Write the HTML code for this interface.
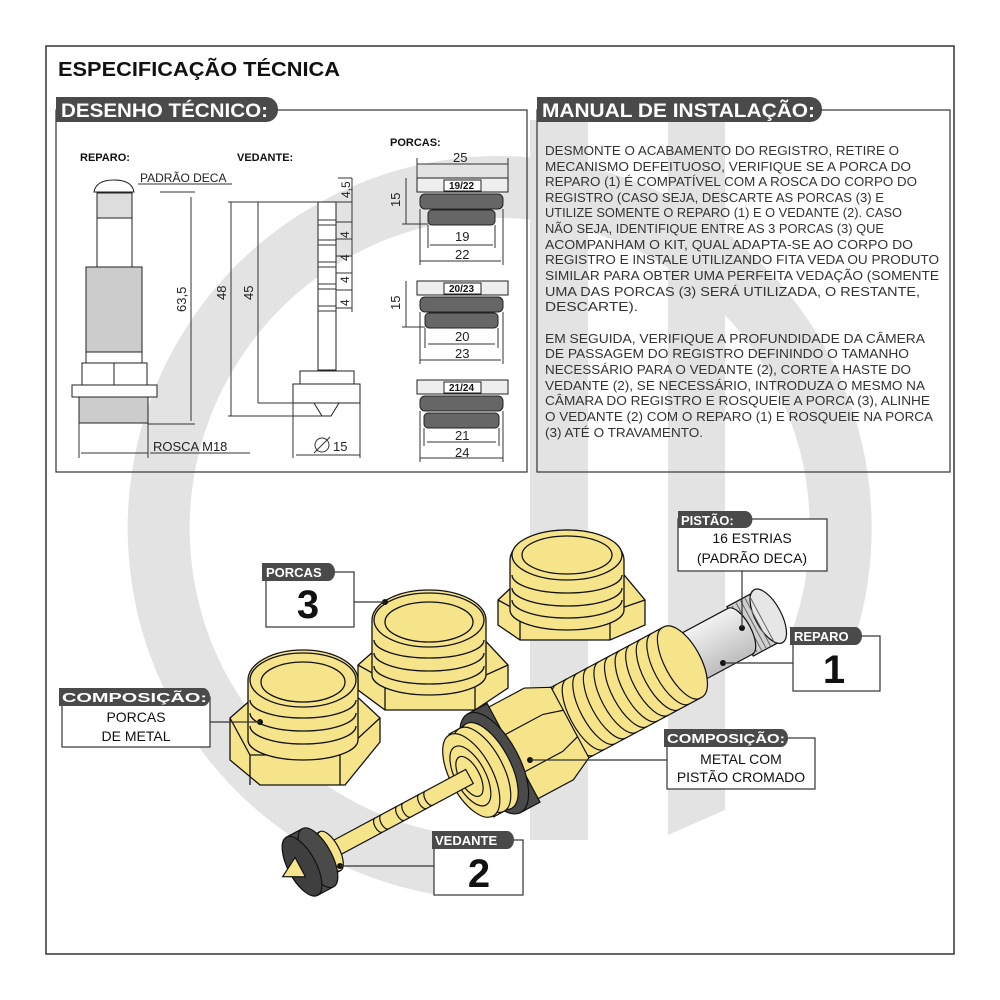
<!DOCTYPE html>
<html><head><meta charset="utf-8"><style>
html,body{margin:0;padding:0;background:#fff;}
svg{display:block;}
text{font-family:"Liberation Sans",sans-serif;}
</style></head><body>
<svg width="1000" height="1000" viewBox="0 0 1000 1000" xmlns="http://www.w3.org/2000/svg">
<defs>
<linearGradient id="chr" x1="0" y1="0" x2="0" y2="1"><stop offset="0" stop-color="#f2f2f2"/><stop offset="0.5" stop-color="#d8d8d8"/><stop offset="1" stop-color="#bdbdbd"/></linearGradient>
</defs>
<rect width="1000" height="1000" fill="#fff"/>
<!-- watermark -->
<path d="M820 645 A341 341 0 1 0 441 864" fill="none" stroke="#e3e3e3" stroke-width="62"/>
<rect x="530" y="120" width="58" height="720" fill="#e3e3e3"/>
<path d="M668 120 H725 V810 L668 835 Z" fill="#e3e3e3"/>
<rect x="46" y="46" width="908" height="908" fill="none" stroke="#333" stroke-width="1.5"/>
<text x="58" y="76" font-size="20" font-weight="900" fill="#111" textLength="282" lengthAdjust="spacingAndGlyphs">ESPECIFICAÇÃO TÉCNICA</text>

<!-- left panel -->
<rect x="56" y="110" width="471" height="362" fill="none" stroke="#333" stroke-width="1.2"/>
<path d="M56 97 H266 a12 12 0 0 1 12 12 v1 a12 12 0 0 1 -12 12 H56 Z" fill="#4a4a4a"/>
<text x="61" y="117" font-size="19" font-weight="bold" fill="#fff" textLength="207" lengthAdjust="spacingAndGlyphs">DESENHO TÉCNICO:</text>
<!-- right panel -->
<rect x="537" y="110" width="413" height="362" fill="none" stroke="#333" stroke-width="1.2"/>
<path d="M537 97 H810 a12 12 0 0 1 12 12 v1 a12 12 0 0 1 -12 12 H537 Z" fill="#4a4a4a"/>
<text x="542" y="117" font-size="19" font-weight="bold" fill="#fff" textLength="273" lengthAdjust="spacingAndGlyphs">MANUAL DE INSTALAÇÃO:</text>

<g font-size="12.5" fill="#333">
<text x="545" y="155" textLength="354" lengthAdjust="spacingAndGlyphs">DESMONTE O ACABAMENTO DO REGISTRO, RETIRE O</text>
<text x="545" y="171" textLength="366" lengthAdjust="spacingAndGlyphs">MECANISMO DEFEITUOSO, VERIFIQUE SE A PORCA DO</text>
<text x="545" y="186" textLength="372" lengthAdjust="spacingAndGlyphs">REPARO (1) É COMPATÍVEL COM A ROSCA DO CORPO DO</text>
<text x="545" y="202" textLength="339" lengthAdjust="spacingAndGlyphs">REGISTRO (CASO SEJA, DESCARTE AS PORCAS (3) E</text>
<text x="545" y="217" textLength="357" lengthAdjust="spacingAndGlyphs">UTILIZE SOMENTE O REPARO (1) E O VEDANTE (2). CASO</text>
<text x="545" y="233" textLength="339" lengthAdjust="spacingAndGlyphs">NÃO SEJA, IDENTIFIQUE ENTRE AS 3 PORCAS (3) QUE</text>
<text x="545" y="249" textLength="368" lengthAdjust="spacingAndGlyphs">ACOMPANHAM O KIT, QUAL ADAPTA-SE AO CORPO DO</text>
<text x="545" y="264" textLength="394" lengthAdjust="spacingAndGlyphs">REGISTRO E INSTALE UTILIZANDO FITA VEDA OU PRODUTO</text>
<text x="545" y="280" textLength="394" lengthAdjust="spacingAndGlyphs">SIMILAR PARA OBTER UMA PERFEITA VEDAÇÃO (SOMENTE</text>
<text x="545" y="296" textLength="375" lengthAdjust="spacingAndGlyphs">UMA DAS PORCAS (3) SERÁ UTILIZADA, O RESTANTE,</text>
<text x="545" y="311" textLength="93" lengthAdjust="spacingAndGlyphs">DESCARTE).</text>
<text x="545" y="343" textLength="380" lengthAdjust="spacingAndGlyphs">EM SEGUIDA, VERIFIQUE A PROFUNDIDADE DA CÂMERA</text>
<text x="545" y="358" textLength="364" lengthAdjust="spacingAndGlyphs">DE PASSAGEM DO REGISTRO DEFININDO O TAMANHO</text>
<text x="545" y="374" textLength="366" lengthAdjust="spacingAndGlyphs">NECESSÁRIO PARA O VEDANTE (2), CORTE A HASTE DO</text>
<text x="545" y="390" textLength="380" lengthAdjust="spacingAndGlyphs">VEDANTE (2), SE NECESSÁRIO, INTRODUZA O MESMO NA</text>
<text x="545" y="405" textLength="385" lengthAdjust="spacingAndGlyphs">CÂMARA DO REGISTRO E ROSQUEIE A PORCA (3), ALINHE</text>
<text x="545" y="421" textLength="388" lengthAdjust="spacingAndGlyphs">O VEDANTE (2) COM O REPARO (1) E ROSQUEIE NA PORCA</text>
<text x="545" y="437" textLength="158" lengthAdjust="spacingAndGlyphs">(3) ATÉ O TRAVAMENTO.</text>
</g>

<!-- technical drawing -->
<g font-size="11" font-weight="bold" fill="#111">
<text x="80" y="161">REPARO:</text>
<text x="237" y="161">VEDANTE:</text>
<text x="390" y="146">PORCAS:</text>
</g>
<g stroke="#222" stroke-width="1" fill="#fff">
<path d="M94 192 Q96 180 114 180 Q132 180 134 192 Z"/>
<rect x="97" y="193" width="35" height="25" fill="#ddd"/>
<rect x="97" y="218" width="35" height="49"/>
<rect x="86" y="267" width="56" height="85" fill="#ccc"/>
<rect x="86" y="352" width="56" height="11"/>
<rect x="82" y="363" width="65" height="22"/><line x1="114" y1="363" x2="114" y2="385"/>
<rect x="72" y="385" width="85" height="12"/>
<rect x="79" y="397" width="69" height="26" fill="#ccc"/>
<rect x="318" y="202" width="18" height="168"/>
<rect x="300" y="371" width="54" height="13"/>
<rect x="293" y="384" width="67" height="19"/>
<path d="M314 403 L339 403 L331 416 L322 416 Z"/>
<g>
<rect x="417" y="178" width="91" height="14" fill="#eee"/><rect x="444" y="180" width="37" height="11"/>
<rect x="420" y="194" width="83" height="15" rx="5" fill="#666"/>
<rect x="428" y="210" width="67" height="15" rx="4" fill="#666"/>
</g>
<g>
<rect x="417" y="281" width="91" height="14" fill="#eee"/><rect x="444" y="283" width="37" height="11"/>
<rect x="420" y="297" width="83" height="15" rx="5" fill="#666"/>
<rect x="425" y="313" width="73" height="15" rx="4" fill="#666"/>
</g>
<g>
<rect x="417" y="380" width="91" height="14" fill="#eee"/><rect x="444" y="382" width="37" height="11"/>
<rect x="420" y="396" width="83" height="15" rx="5" fill="#666"/>
<rect x="424" y="413" width="75" height="15" rx="4" fill="#666"/>
</g>
</g>
<g stroke="#333" stroke-width="1" fill="none">
<path d="M318 220h18M318 225h18M318 240h18M318 245h18M318 262h18M318 267h18M318 284h18M318 289h18M318 306h18M318 311h18"/>
<line x1="191" y1="197" x2="191" y2="421"/>
<line x1="160" y1="192" x2="195" y2="192"/>
<line x1="148" y1="424" x2="195" y2="424"/>
<line x1="231" y1="202" x2="231" y2="416"/><line x1="258" y1="202" x2="258" y2="403"/>
<line x1="228" y1="202" x2="318" y2="202"/><line x1="228" y1="416" x2="322" y2="416"/><line x1="258" y1="403" x2="293" y2="403"/>
<line x1="338" y1="178" x2="352" y2="178"/><line x1="352" y1="178" x2="352" y2="312"/>
<path d="M336 202h16M336 222h16M336 239h16M336 256h16M336 273h16M336 290h16M336 308h16"/>
<line x1="138" y1="184" x2="232" y2="184"/>
<line x1="150" y1="453" x2="250" y2="453"/>
<line x1="81" y1="453" x2="148" y2="453"/><line x1="79" y1="423" x2="79" y2="458"/><line x1="148" y1="423" x2="148" y2="458"/>
<line x1="296" y1="455" x2="360" y2="455"/><line x1="293" y1="403" x2="293" y2="458"/><line x1="360" y1="403" x2="360" y2="458"/>
<line x1="417" y1="164" x2="508" y2="164"/><line x1="417" y1="158" x2="417" y2="178"/><line x1="508" y1="158" x2="508" y2="178"/>
<line x1="406" y1="178" x2="406" y2="224"/><line x1="402" y1="224" x2="428" y2="224"/>
<line x1="406" y1="281" x2="406" y2="327"/><line x1="402" y1="327" x2="425" y2="327"/>
<line x1="430" y1="245" x2="493" y2="245"/><line x1="420" y1="261" x2="501" y2="261"/>
<line x1="428" y1="225" x2="428" y2="248"/><line x1="495" y1="225" x2="495" y2="248"/><line x1="420" y1="209" x2="420" y2="265"/><line x1="503" y1="209" x2="503" y2="265"/>
<line x1="428" y1="344" x2="495" y2="344"/><line x1="420" y1="360" x2="501" y2="360"/>
<line x1="425" y1="328" x2="425" y2="348"/><line x1="498" y1="328" x2="498" y2="348"/><line x1="420" y1="312" x2="420" y2="364"/><line x1="503" y1="312" x2="503" y2="364"/>
<line x1="427" y1="442" x2="496" y2="442"/><line x1="420" y1="458" x2="503" y2="458"/>
<line x1="424" y1="428" x2="424" y2="446"/><line x1="499" y1="428" x2="499" y2="446"/><line x1="420" y1="411" x2="420" y2="462"/><line x1="503" y1="411" x2="503" y2="462"/>
<circle cx="322" cy="445" r="7"/><line x1="314" y1="453" x2="330" y2="437"/>
</g>
<g font-size="13" fill="#222">
<text x="140" y="182" font-size="12">PADRÃO DECA</text>
<text x="153" y="451">ROSCA M18</text>
<text x="333" y="451">15</text>
<text x="453" y="162">25</text>
<text x="455" y="241">19</text><text x="455" y="259">22</text>
<text x="455" y="341">20</text><text x="455" y="358">23</text>
<text x="455" y="440">21</text><text x="455" y="457">24</text>
<text transform="translate(186,312) rotate(-90)">63,5</text>
<text transform="translate(226,300) rotate(-90)">48</text>
<text transform="translate(253,300) rotate(-90)">45</text>
<text transform="translate(400,207) rotate(-90)">15</text>
<text transform="translate(400,310) rotate(-90)">15</text>
<text transform="translate(350,198) rotate(-90)" font-size="12">4,5</text>
<text transform="translate(349,238) rotate(-90)" font-size="12">4</text>
<text transform="translate(349,261) rotate(-90)" font-size="12">4</text>
<text transform="translate(349,283) rotate(-90)" font-size="12">4</text>
<text transform="translate(349,306) rotate(-90)" font-size="12">4</text>
</g>
<g font-size="10" font-weight="bold" fill="#111">
<text x="449" y="189">19/22</text><text x="449" y="292">20/23</text><text x="449" y="391">21/24</text>
</g>

<!-- nuts -->
<g stroke="#111" stroke-width="1.3" fill="#f6e48a">
<path d="M498 600 L530 570 L620 570 L645 600 L645 625 L610 640 L520 640 L498 625 Z"/>
<path d="M498 600 L520 612 L610 612 L645 600" fill="none"/>
<path d="M520 612 V640 M610 612 V640" fill="none"/>
<path d="M510 610 V560 A57 30 0 0 1 624 560 V610 A57 20 0 0 1 510 610 Z"/>
<ellipse cx="567" cy="555" rx="55" ry="25"/><ellipse cx="567" cy="555" rx="45" ry="19"/>
<path d="M512 575 A55 18 0 0 0 622 575 M512 588 A55 18 0 0 0 622 588 M512 600 A55 18 0 0 0 622 600" fill="none"/>
<path d="M358 665 L392 635 L480 635 L508 665 L508 688 L475 710 L385 710 L358 690 Z"/>
<path d="M358 665 L385 680 L475 680 L508 665" fill="none"/>
<path d="M385 680 V710 M475 680 V710" fill="none"/>
<path d="M372 675 V620 A57 30 0 0 1 486 620 V675 A57 20 0 0 1 372 675 Z"/>
<ellipse cx="429" cy="620" rx="55" ry="27"/><ellipse cx="429" cy="622" rx="44" ry="20"/>
<path d="M374 640 A55 18 0 0 0 484 640 M374 653 A55 18 0 0 0 484 653 M374 666 A55 18 0 0 0 484 666" fill="none"/>
<path d="M230 718 L262 690 L350 690 L380 718 L380 742 L345 785 L260 785 L230 760 Z"/>
<path d="M230 718 L250 755 L340 755 L380 718" fill="none"/>
<path d="M250 755 V785 M340 755 V785" fill="none"/>
<path d="M248 740 V680 A55 30 0 0 1 358 680 V740 A55 20 0 0 1 248 740 Z"/>
<ellipse cx="303" cy="680" rx="53" ry="27"/><ellipse cx="303" cy="682" rx="42" ry="20"/>
<path d="M250 700 A53 18 0 0 0 356 700 M250 713 A53 18 0 0 0 356 713 M250 726 A53 18 0 0 0 356 726" fill="none"/>
</g>

<!-- reparo + vedante assembly (local axis coords) -->
<g transform="translate(295,870) rotate(-28.2)" stroke="#111" stroke-width="1.2" fill="#f6e48a">
<!-- spline end -->
<path d="M505 -28 H537 A13 30 0 0 1 537 28 H505 Z" fill="#cfcfcf"/>
<ellipse cx="537" cy="0" rx="13" ry="30" fill="#e6e6e6"/>
<path d="M510 -26 V26 M515 -27 V27 M520 -27 V27 M525 -27 V27 M530 -27 V27" stroke="#666" stroke-width="1"/>
<!-- chrome piston -->
<path d="M440 -26 H505 A11 26 0 0 1 505 26 H440 Z" fill="url(#chr)"/>
<!-- threaded body -->
<path d="M305 -40 H440 A18 40 0 0 1 440 40 H305 Z"/>
<path d="M318 -40 A16 40 0 0 0 318 40 M330 -40 A16 40 0 0 0 330 40 M342 -40 A16 40 0 0 0 342 40 M354 -40 A16 40 0 0 0 354 40 M366 -40 A16 40 0 0 0 366 40 M378 -40 A16 40 0 0 0 378 40 M390 -40 A16 40 0 0 0 390 40 M402 -40 A16 40 0 0 0 402 40 M414 -40 A16 40 0 0 0 414 40 M426 -40 A16 40 0 0 0 426 40 M438 -40 A16 40 0 0 0 438 40" fill="none"/>
<!-- hex collar -->
<path d="M245 -52 L288 -52 L312 -40 L312 40 L288 52 L245 52 Z"/>
<path d="M245 -20 H292 L312 -14 M245 22 H292 L312 16" fill="none"/>
<!-- o-ring -->
<path d="M226 -56 H248 V56 H226 Z" fill="#4a4a4a"/>
<ellipse cx="226" cy="0" rx="25" ry="56" fill="#4a4a4a"/>
<!-- front threads -->
<path d="M200 -47 H224 V47 H200 Z"/>
<ellipse cx="220" cy="0" rx="21" ry="48"/>
<ellipse cx="212" cy="0" rx="21" ry="47"/>
<ellipse cx="200" cy="0" rx="21" ry="46"/>
<ellipse cx="199" cy="0" rx="15" ry="33"/>
<ellipse cx="198" cy="0" rx="10" ry="22"/>
<!-- stem -->
<path d="M36 -8 H198 V8 H36 Z"/>
<path d="M95 -8 A4 8 0 0 0 95 8 M102 -8 A4 8 0 0 0 102 8 M120 -8 A4 8 0 0 0 120 8 M127 -8 A4 8 0 0 0 127 8 M145 -8 A4 8 0 0 0 145 8 M152 -8 A4 8 0 0 0 152 8" fill="none"/>
<!-- disk collar -->
<path d="M28 -22 H40 V22 H28 Z"/>
<ellipse cx="40" cy="0" rx="9" ry="22"/>
<ellipse cx="30" cy="0" rx="9" ry="22"/>
<!-- rubber disk -->
<path d="M8 -33 H26 V33 H8 Z" fill="#4a4a4a"/>
<ellipse cx="26" cy="0" rx="14" ry="33" fill="#4a4a4a"/>
<ellipse cx="8" cy="0" rx="14" ry="33" fill="#3f3f3f"/>
<path d="M6 -11 L-14 0 L6 11 Z"/>
</g>
<g fill="#111"><circle cx="385" cy="602" r="3"/><circle cx="260" cy="722" r="3"/><circle cx="530" cy="760" r="3"/><circle cx="340" cy="866" r="3"/><circle cx="723" cy="663" r="3"/><circle cx="742" cy="628" r="3"/></g>

<!-- callouts -->
<g stroke="#333" stroke-width="1.2" fill="#fff">
<line x1="742" y1="571" x2="742" y2="628"/>
<line x1="723" y1="663" x2="793" y2="663"/>
<line x1="354" y1="602" x2="385" y2="602"/>
<line x1="210" y1="722" x2="260" y2="722"/>
<line x1="530" y1="760" x2="667" y2="760"/>
<line x1="340" y1="866" x2="434" y2="866"/>
<rect x="678" y="519" width="149" height="52"/>
<rect x="793" y="636" width="87" height="55"/>
<rect x="266" y="572" width="88" height="55"/>
<rect x="62" y="697" width="148" height="50"/>
<rect x="667" y="738" width="148" height="51"/>
<rect x="434" y="840" width="89" height="55"/>
</g>
<g fill="#4a4a4a">
<path d="M678 511 H745 a7 8 0 0 1 0 17 H678 Z"/>
<path d="M790 627 H855 a7 9 0 0 1 0 18 H790 Z"/>
<path d="M262 563 H328 a7 9 0 0 1 0 18 H262 Z"/>
<path d="M59 688 H203 a7 9 0 0 1 0 18 H59 Z"/>
<path d="M664 729 H781 a7 9 0 0 1 0 18 H664 Z"/>
<path d="M432 831 H507 a7 9 0 0 1 0 18 H432 Z"/>
</g>
<g fill="#fff" font-weight="bold" font-size="13">
<text x="681" y="525">PISTÃO:</text>
<text x="794" y="641">REPARO</text>
<text x="266" y="577">PORCAS</text>
<text x="62" y="702" textLength="145" lengthAdjust="spacingAndGlyphs">COMPOSIÇÃO:</text>
<text x="667" y="743" textLength="118" lengthAdjust="spacingAndGlyphs">COMPOSIÇÃO:</text>
<text x="435" y="845">VEDANTE</text>
</g>
<g fill="#111" font-size="14" text-anchor="middle">
<text x="752" y="543">16 ESTRIAS</text>
<text x="752" y="563">(PADRÃO DECA)</text>
<text x="136" y="722">PORCAS</text>
<text x="136" y="741">DE METAL</text>
<text x="741" y="764">METAL COM</text>
<text x="741" y="782">PISTÃO CROMADO</text>
</g>
<g fill="#111" font-size="40" font-weight="bold" text-anchor="middle">
<text x="834" y="683">1</text>
<text x="308" y="618">3</text>
<text x="479" y="887">2</text>
</g>
</svg>
</body></html>
